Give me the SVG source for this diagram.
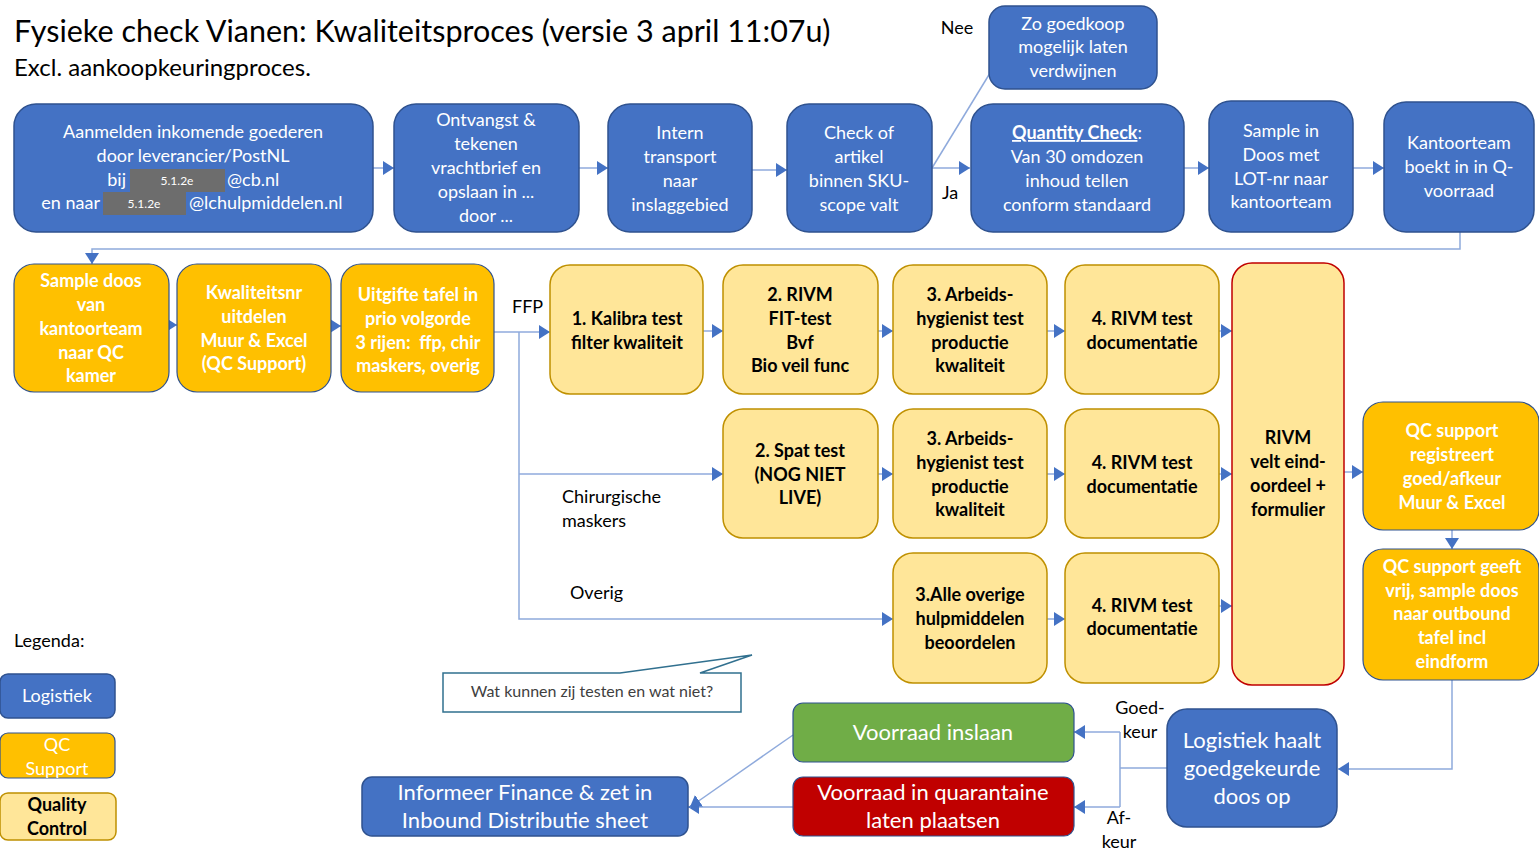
<svg xmlns="http://www.w3.org/2000/svg" width="1539" height="851" viewBox="0 0 1539 851">
<defs>
<style>
text{font-family:Lato,"Open Sans","Liberation Sans",sans-serif}
.t{font-size:18px;fill:#fff;text-anchor:middle}
.tb{font-size:18px;fill:#fff;text-anchor:middle;font-weight:bold}
.tk{font-size:18px;fill:#000;text-anchor:middle;font-weight:bold}
.big{font-size:22px}
.lab{font-size:18px;fill:#000}
.blue{fill:#4472c4;stroke:#2f528f;stroke-width:1.5}
.org{fill:#ffc000;stroke:#2f528f;stroke-width:1.2}
.qc{fill:#ffe699;stroke:#bf9000;stroke-width:1.5}
.con{fill:none;stroke:#8faadc;stroke-width:1.5}
.ar{marker-end:url(#ah)}
</style>
<marker id="ah" markerWidth="12" markerHeight="14" refX="11" refY="7" orient="auto" markerUnits="userSpaceOnUse">
<path d="M0,0 L11,7 L0,14 Z" fill="#4472c4"/>
</marker>
</defs>
<rect width="1539" height="851" fill="#fff"/>

<g id="title">
<text x="14" y="42" font-size="30.5" fill="#000">Fysieke check Vianen: Kwaliteitsproces (versie 3 april 11:07u)</text>
<text x="14" y="76" font-size="24" fill="#000">Excl. aankoopkeuringproces.</text>
</g>

<g id="connectors">
<path class="con ar" d="M373,168 H394"/>
<path class="con ar" d="M579,168 H608"/>
<path class="con ar" d="M752,170 H787"/>
<path class="con ar" d="M932,168 H970"/>
<path class="con" d="M932,168 L998,60"/>
<path class="con ar" d="M1184,168 H1209"/>
<path class="con ar" d="M1353,168 H1384"/>
<path class="con ar" d="M1460,232 V249 H92 V264"/>
<path class="con ar" d="M155,325 H177"/>
<path class="con ar" d="M320,326 H341"/>
<path class="con ar" d="M494,332 H550"/>
<path class="con ar" d="M519,332 V619 H893"/>
<path class="con ar" d="M519,474 H723"/>
<path class="con ar" d="M703,331 H723"/>
<path class="con ar" d="M878,331 H893"/>
<path class="con ar" d="M1047,331 H1065"/>
<path class="con ar" d="M1219,331 H1232"/>
<path class="con ar" d="M878,474 H893"/>
<path class="con ar" d="M1047,474 H1065"/>
<path class="con ar" d="M1219,474 H1232"/>
<path class="con ar" d="M1047,619 H1065"/>
<path class="con ar" d="M1219,606 H1232"/>
<path class="con ar" d="M1344,472 H1363"/>
<path class="con ar" d="M1452,530 V549"/>
<path class="con ar" d="M1452,680 V769 H1338"/>
<path class="con" d="M1167,768 H1120 M1120,732 V807"/>
<path class="con ar" d="M1120,732 H1074"/>
<path class="con ar" d="M1120,807 H1074"/>
<path class="con ar" d="M793,807 H688"/>
<path class="con ar" d="M793,735 L690,807"/>
<text class="lab" x="957" y="34" text-anchor="middle">Nee</text>
<text class="lab" x="950" y="199" text-anchor="middle">Ja</text>
<text class="lab" x="512" y="313">FFP</text>
<text class="lab" x="562" y="503">Chirurgische</text>
<text class="lab" x="562" y="527">maskers</text>
<text class="lab" x="570" y="599">Overig</text>
<text class="lab" x="1140" y="714" text-anchor="middle">Goed-</text>
<text class="lab" x="1140" y="738" text-anchor="middle">keur</text>
<text class="lab" x="1119" y="824" text-anchor="middle">Af-</text>
<text class="lab" x="1119" y="848" text-anchor="middle">keur</text>
</g>

<g id="n-aanmelden">
<rect class="blue" x="14" y="104" width="359" height="128" rx="22"/>
<text class="t" x="193" y="138">Aanmelden inkomende goederen</text>
<text class="t" x="193" y="162">door leverancier/PostNL</text>
<rect x="130" y="169" width="95" height="23" fill="#6d6d6d"/>
<rect x="103" y="192" width="83" height="23" fill="#6d6d6d"/>
<text x="177" y="185" font-size="12" fill="#fff" text-anchor="middle">5.1.2e</text>
<text x="144" y="208" font-size="12" fill="#fff" text-anchor="middle">5.1.2e</text>
<text class="t" x="126" y="186" style="text-anchor:end">bij</text>
<text class="t" x="227" y="186" style="text-anchor:start">@cb.nl</text>
<text class="t" x="100" y="209" style="text-anchor:end">en naar</text>
<text class="t" x="189" y="209" style="text-anchor:start">@lchulpmiddelen.nl</text>
</g>
<g id="n-ontvangst">
<rect class="blue" x="394" y="104" width="185" height="128" rx="22"/>
<text class="t" x="486" y="126">Ontvangst &amp;</text>
<text class="t" x="486" y="150">tekenen</text>
<text class="t" x="486" y="174">vrachtbrief en</text>
<text class="t" x="486" y="198">opslaan in ...</text>
<text class="t" x="486" y="222">door ...</text>
</g>
<g id="n-intern">
<rect class="blue" x="608" y="104" width="144" height="128" rx="22"/>
<text class="t" x="680" y="139">Intern</text>
<text class="t" x="680" y="163">transport</text>
<text class="t" x="680" y="187">naar</text>
<text class="t" x="680" y="211">inslaggebied</text>
</g>
<g id="n-check">
<rect class="blue" x="787" y="104" width="145" height="128" rx="22"/>
<text class="t" x="859" y="139">Check of</text>
<text class="t" x="859" y="163">artikel</text>
<text class="t" x="859" y="187">binnen SKU-</text>
<text class="t" x="859" y="211">scope valt</text>
</g>
<g id="n-goedkoop">
<rect class="blue" x="989" y="6" width="168" height="83" rx="16"/>
<text class="t" x="1073" y="30">Zo goedkoop</text>
<text class="t" x="1073" y="53">mogelijk laten</text>
<text class="t" x="1073" y="77">verdwijnen</text>
</g>
<g id="n-quantity">
<rect class="blue" x="971" y="104" width="213" height="128" rx="22"/>
<text class="tb" x="1077" y="139"><tspan text-decoration="underline">Quantity Check</tspan><tspan font-weight="normal">:</tspan></text>
<text class="t" x="1077" y="163">Van 30 omdozen</text>
<text class="t" x="1077" y="187">inhoud tellen</text>
<text class="t" x="1077" y="211">conform standaard</text>
</g>
<g id="n-sample">
<rect class="blue" x="1209" y="101" width="144" height="131" rx="22"/>
<text class="t" x="1281" y="137">Sample in</text>
<text class="t" x="1281" y="161">Doos met</text>
<text class="t" x="1281" y="185">LOT-nr naar</text>
<text class="t" x="1281" y="208">kantoorteam</text>
</g>
<g id="n-kantoorteam">
<rect class="blue" x="1384" y="102" width="150" height="130" rx="22"/>
<text class="t" x="1459" y="149">Kantoorteam</text>
<text class="t" x="1459" y="173">boekt in in Q-</text>
<text class="t" x="1459" y="197">voorraad</text>
</g>

<g id="n-sampledoos">
<rect class="org" x="14" y="264" width="155" height="128" rx="20"/>
<text class="tb" x="91" y="287">Sample doos</text>
<text class="tb" x="91" y="311">van</text>
<text class="tb" x="91" y="335">kantoorteam</text>
<text class="tb" x="91" y="359">naar QC</text>
<text class="tb" x="91" y="382">kamer</text>
</g>
<g id="n-kwaliteitsnr">
<rect class="org" x="177" y="264" width="154" height="128" rx="20"/>
<text class="tb" x="254" y="299">Kwaliteitsnr</text>
<text class="tb" x="254" y="323">uitdelen</text>
<text class="tb" x="254" y="347">Muur &amp; Excel</text>
<text class="tb" x="254" y="370">(QC Support)</text>
</g>
<g id="n-uitgifte">
<rect class="org" x="341" y="264" width="153" height="128" rx="20"/>
<text class="tb" x="418" y="301">Uitgifte tafel in</text>
<text class="tb" x="418" y="325">prio volgorde</text>
<text class="tb" x="418" y="349">3 rijen:&#160; ffp, chir</text>
<text class="tb" x="418" y="372">maskers, overig</text>
</g>

<g id="n-kalibra">
<rect class="qc" x="550" y="265" width="153" height="129" rx="20"/>
<text class="tk" x="627" y="325">1. Kalibra test</text>
<text class="tk" x="627" y="349">filter kwaliteit</text>
</g>
<g id="n-rivmfit">
<rect class="qc" x="723" y="265" width="155" height="129" rx="20"/>
<text class="tk" x="800" y="301">2. RIVM</text>
<text class="tk" x="800" y="325">FIT-test</text>
<text class="tk" x="800" y="349">Bvf</text>
<text class="tk" x="800" y="372">Bio veil func</text>
</g>
<g id="n-arbeids1">
<rect class="qc" x="893" y="265" width="154" height="129" rx="20"/>
<text class="tk" x="970" y="301">3. Arbeids-</text>
<text class="tk" x="970" y="325">hygienist test</text>
<text class="tk" x="970" y="349">productie</text>
<text class="tk" x="970" y="372">kwaliteit</text>
</g>
<g id="n-doc1">
<rect class="qc" x="1065" y="265" width="154" height="129" rx="20"/>
<text class="tk" x="1142" y="325">4. RIVM test</text>
<text class="tk" x="1142" y="349">documentatie</text>
</g>
<g id="n-spat">
<rect class="qc" x="723" y="409" width="155" height="129" rx="20"/>
<text class="tk" x="800" y="457">2. Spat test</text>
<text class="tk" x="800" y="481">(NOG NIET</text>
<text class="tk" x="800" y="504">LIVE)</text>
</g>
<g id="n-arbeids2">
<rect class="qc" x="893" y="409" width="154" height="129" rx="20"/>
<text class="tk" x="970" y="445">3. Arbeids-</text>
<text class="tk" x="970" y="469">hygienist test</text>
<text class="tk" x="970" y="493">productie</text>
<text class="tk" x="970" y="516">kwaliteit</text>
</g>
<g id="n-doc2">
<rect class="qc" x="1065" y="409" width="154" height="129" rx="20"/>
<text class="tk" x="1142" y="469">4. RIVM test</text>
<text class="tk" x="1142" y="493">documentatie</text>
</g>
<g id="n-overige">
<rect class="qc" x="893" y="553" width="154" height="130" rx="20"/>
<text class="tk" x="970" y="601">3.Alle overige</text>
<text class="tk" x="970" y="625">hulpmiddelen</text>
<text class="tk" x="970" y="649">beoordelen</text>
</g>
<g id="n-doc3">
<rect class="qc" x="1065" y="553" width="154" height="130" rx="20"/>
<text class="tk" x="1142" y="612">4. RIVM test</text>
<text class="tk" x="1142" y="635">documentatie</text>
</g>
<g id="n-rivm">
<rect x="1232" y="263" width="112" height="422" rx="20" fill="#ffe699" stroke="#c00000" stroke-width="1.5"/>
<text class="tk" x="1288" y="444">RIVM</text>
<text class="tk" x="1288" y="468">velt eind-</text>
<text class="tk" x="1288" y="492">oordeel +</text>
<text class="tk" x="1288" y="516">formulier</text>
</g>
<g id="n-qcreg">
<rect class="org" x="1363" y="402" width="176" height="128" rx="20"/>
<text class="tb" x="1452" y="437">QC support</text>
<text class="tb" x="1452" y="461">registreert</text>
<text class="tb" x="1452" y="485">goed/afkeur</text>
<text class="tb" x="1452" y="509">Muur &amp; Excel</text>
</g>
<g id="n-qcvrij">
<rect class="org" x="1363" y="549" width="176" height="131" rx="20"/>
<text class="tb" x="1452" y="573">QC support geeft</text>
<text class="tb" x="1452" y="597">vrij, sample doos</text>
<text class="tb" x="1452" y="620">naar outbound</text>
<text class="tb" x="1452" y="644">tafel incl</text>
<text class="tb" x="1452" y="668">eindform</text>
</g>
<g id="n-logistiek">
<rect class="blue" x="1167" y="709" width="170" height="118" rx="20"/>
<text class="t big" x="1252" y="748">Logistiek haalt</text>
<text class="t big" x="1252" y="776">goedgekeurde</text>
<text class="t big" x="1252" y="804">doos op</text>
</g>
<g id="n-inslaan">
<rect x="793" y="703" width="281" height="59" rx="10" fill="#70ad47" stroke="#2f528f" stroke-width="1.2"/>
<text class="t big" x="933" y="740">Voorraad inslaan</text>
</g>
<g id="n-quarantaine">
<rect x="793" y="777" width="281" height="59" rx="10" fill="#c00000" stroke="#2f528f" stroke-width="1.2"/>
<text class="t big" x="933" y="800">Voorraad in quarantaine</text>
<text class="t big" x="933" y="828">laten plaatsen</text>
</g>
<g id="n-informeer">
<rect class="blue" x="362" y="777" width="326" height="59" rx="10"/>
<text class="t big" x="525" y="800">Informeer Finance &amp; zet in</text>
<text class="t big" x="525" y="828">Inbound Distributie sheet</text>
</g>

<g id="callout">
<path d="M443,673 H620 L752,655 L700,673 H741 V712 H443 Z" fill="#fff" stroke="#31708f" stroke-width="1.5"/>
<text x="592" y="697" font-size="16" fill="#404040" text-anchor="middle">Wat kunnen zij testen en wat niet?</text>
</g>

<g id="legend">
<text x="14" y="647" font-size="18" fill="#000">Legenda:</text>
<rect class="blue" x="0" y="674" width="115" height="44" rx="8"/>
<text class="t" x="57" y="702">Logistiek</text>
<rect class="org" x="0" y="733" width="115" height="45" rx="8"/>
<text class="t" x="57" y="751">QC</text>
<text class="t" x="57" y="775">Support</text>
<rect class="qc" x="0" y="793" width="116" height="47" rx="8"/>
<text class="tk" x="57" y="811">Quality</text>
<text class="tk" x="57" y="835">Control</text>
</g>
</svg>
